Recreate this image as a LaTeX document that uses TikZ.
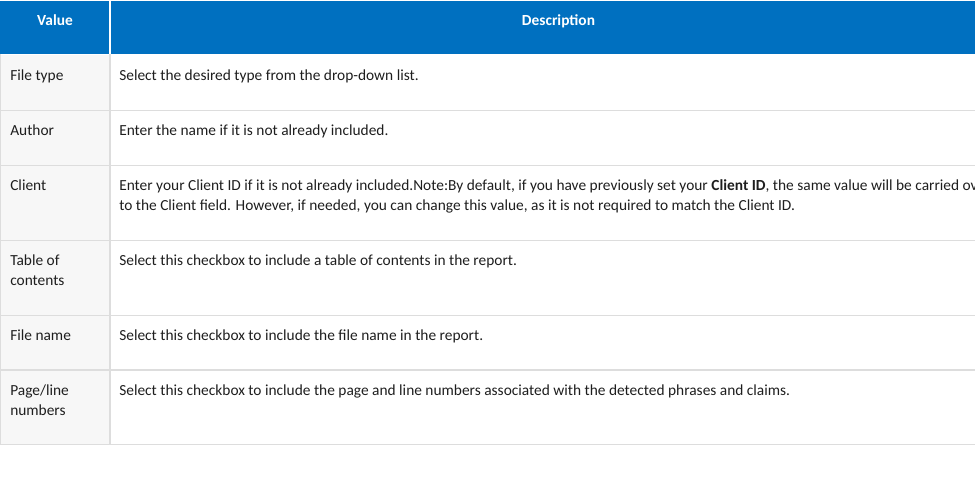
\documentclass[tikz,border=0pt]{standalone}
\usepackage{fontspec}
\setmainfont{Carlito}
\definecolor{hdrblue}{HTML}{0070C0}
\definecolor{colgray}{HTML}{F7F7F7}
\definecolor{gridgray}{HTML}{DDDDDD}
\definecolor{txtcol}{HTML}{1E1E1E}
\begin{document}
\begin{tikzpicture}[x=0.75pt,y=-0.75pt,
  txt/.style={anchor=base west,inner sep=0pt,font=\fontsize{11.55}{15}\selectfont,text=txtcol},
  hdr/.style={anchor=base,inner sep=0pt,font=\fontsize{11.55}{15}\selectfont\bfseries,text=white},
  hline/.style={draw=gridgray,line width=0.75pt}]
\useasboundingbox (0,0) rectangle (975,488);
\clip (0,0) rectangle (975,488);
% header
\fill[hdrblue] (0,1) rectangle (975,54);
\fill[colgray] (0,55) rectangle (109,445);
\draw[white,line width=1.2pt] (110,1) -- (110,54);
\draw[gridgray,line width=1.2pt] (110,54) -- (110,445);
\draw[gridgray,line width=0.9pt] (0.6,54) -- (0.6,445);
% row lines
\draw[hline] (0,110.5) -- (975,110.5);
\draw[hline] (0,165.5) -- (975,165.5);
\draw[hline] (0,240.5) -- (975,240.5);
\draw[hline] (0,315.5) -- (975,315.5);
\draw[hline,line width=1.4pt] (0,370) -- (975,370);
\draw[hline,line width=1.4pt] (0,444.5) -- (975,444.5);
% header texts
\node[hdr] (hval) at (55,25.5) {Value};
\node[hdr] (hdesc) at (558.5,25.5) {Description};
% column 1
\node[txt] (v1) at (10,80.5) {File type};
\node[txt] (v2) at (10,135.5) {Author};
\node[txt] (v3) at (10,190.5) {Client};
\node[txt] (v4a) at (10,265.5) {Table of};
\node[txt] (v4b) at (10,285.5) {contents};
\node[txt] (v5) at (10,340.5) {File name};
\node[txt] (v6a) at (10,395.5) {Page/line};
\node[txt] (v6b) at (10,415.5) {numbers};
% column 2
\node[txt] (d1) at (119,80.5) {Select the desired type from the drop-down list.};
\node[txt] (d2) at (119,135.5) {Enter the name if it is not already included.};
\node[txt] (d3a) at (119,190.5) {Enter your Client ID if it is not already included.Note:By default, if you have previously set your \textbf{Client ID}, the same value will be carried over};
\node[txt] (d3b) at (119,210.5) {to the Client field. However, if needed, you can change this value, as it is not required to match the Client ID.};
\node[txt] (d4) at (119,265.5) {Select this checkbox to include a table of contents in the report.};
\node[txt] (d5) at (119,340.5) {Select this checkbox to include the file name in the report.};
\node[txt] (d6) at (119,395.5) {Select this checkbox to include the page and line numbers associated with the detected phrases and claims.};
\end{tikzpicture}
\end{document}
